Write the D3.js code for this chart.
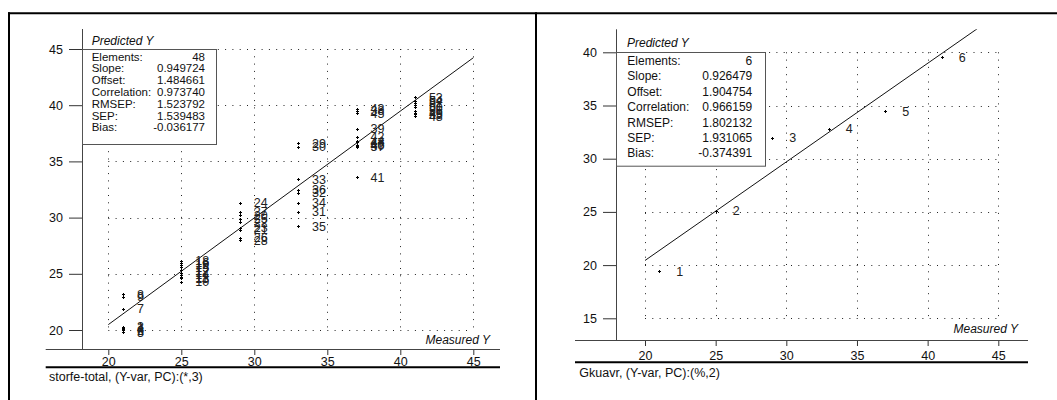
<!DOCTYPE html>
<html>
<head>
<meta charset="utf-8">
<script src="https://cdn.jsdelivr.net/npm/d3@7"></script>
<style>
  html, body { margin: 0; padding: 0; background: #fff; }
  svg { display: block; font-family: "Liberation Sans", Arial, sans-serif; }
</style>
</head>
<body>
<svg id="chart" width="1057" height="400"></svg>
<script>
// ---- storfe-total: measured vs predicted, sample numbers as labels ----
const storfeIds = [
  1, 2, 3, 4, 5, 6, 7, 8, 9,
  10, 11, 12, 13, 14, 15, 16, 17, 18, 19,
  20, 21, 22, 23, 24, 25, 26, 27, 28,
  29, 30, 31, 32, 33, 34, 35, 36,
  37, 38, 39, 40, 41, 42, 43, 44, 45, 46, 47,
  48, 49, 50, 51, 52, 53, 54, 55, 56
];
const storfeMeasured = [
  21, 21, 21, 21, 21, 21, 21, 21, 21,
  25, 25, 25, 25, 25, 25, 25, 25, 25, 25,
  29, 29, 29, 29, 29, 29, 29, 29, 29,
  33, 33, 33, 33, 33, 33, 33, 33,
  37, 37, 37, 37, 37, 37, 37, 37, 37, 37, 37,
  41, 41, 41, 41, 41, 41, 41, 41, 41
];
const storfePredicted = [
  20.2, 20.0, 20.3, 20.1, 19.8, 20.0, 21.9, 23.2, 22.95,
  24.3, 24.7, 25.3, 24.6, 24.9, 25.6, 26.0, 25.1, 26.15, 25.8,
  30.2, 28.9, 29.6, 29.1, 31.3, 29.9, 28.2, 30.5, 28.0,
  36.6, 36.3, 30.5, 32.2, 33.4, 31.3, 29.25, 32.5,
  36.3, 39.5, 37.9, 36.4, 33.6, 37.2, 39.7, 36.8, 39.3, 36.5, 36.7,
  39.0, 39.3, 39.8, 40.0, 40.2, 40.7, 40.4, 39.2, 39.5
];
const storfeStats = ["48", "0.949724", "1.484661", "0.973740", "1.523792", "1.539483", "-0.036177"];

// ---- Gkuavr ----
const gkuavrIds = [1, 2, 3, 4, 5, 6];
const gkuavrMeasured = [21, 25, 29, 33, 37, 41];
const gkuavrPredicted = [19.4, 25.1, 31.95, 32.8, 34.45, 39.55];
const gkuavrStats = ["6", "0.926479", "1.904754", "0.966159", "1.802132", "1.931065", "-0.374391"];

const statNames = ["Elements:", "Slope:", "Offset:", "Correlation:", "RMSEP:", "SEP:", "Bias:"];
const measuredTicks = [20, 25, 30, 35, 40, 45];
const storfeTicks = [20, 25, 30, 35, 40, 45];
const gkuavrTicks = [15, 20, 25, 30, 35, 40];
const storfeCaption = "storfe-total, (Y-var, PC):(*,3)";
const gkuavrCaption = "Gkuavr, (Y-var, PC):(%,2)";

const svg = d3.select("#chart");

// outer frame of the two panels
svg.append("line").attr("x1", 8).attr("x2", 1057).attr("y1", 13.3).attr("y2", 13.3)
  .attr("stroke", "#000").attr("stroke-width", 2);
svg.append("line").attr("x1", 9).attr("x2", 9).attr("y1", 12.3).attr("y2", 400)
  .attr("stroke", "#000").attr("stroke-width", 2);
svg.append("line").attr("x1", 536).attr("x2", 536).attr("y1", 12.3).attr("y2", 400)
  .attr("stroke", "#000").attr("stroke-width", 2);

function drawPanel(p, ids, measured, predicted, stats, yTicks, caption, clipId) {
  const g = svg.append("g");
  const x = d3.scaleLinear().domain([20, 45]).range(p.xRange);
  const y = d3.scaleLinear().domain(p.yDomain).range(p.yRange);
  const yLo = p.yDomain[0], yHi = p.yDomain[1];

  // dotted grid inside the tick range
  const grid = g.append("g").attr("stroke", "#222").attr("stroke-width", 1)
    .attr("stroke-dasharray", "1 6.3");
  grid.selectAll(".gh").data(yTicks).join("line")
    .attr("x1", x(20)).attr("x2", x(45))
    .attr("y1", d => Math.round(y(d)) + 0.5).attr("y2", d => Math.round(y(d)) + 0.5);
  grid.selectAll(".gv").data(measuredTicks).join("line")
    .attr("y1", y(yHi)).attr("y2", y(yLo))
    .attr("x1", d => Math.round(x(d)) + 0.5).attr("x2", d => Math.round(x(d)) + 0.5);

  // x axis: major + minor ticks
  const xMinor = d3.range(Math.ceil(x.invert(p.yAxisX)), Math.floor(x.invert(p.axisRight)) + 1)
    .filter(v => !measuredTicks.includes(v));
  const xAxisG = g.append("g").attr("transform", `translate(0,${p.axisY})`);
  xAxisG.call(d3.axisBottom(x).tickValues(xMinor).tickSize(3).tickFormat(""));
  xAxisG.call(d3.axisBottom(x).tickValues(measuredTicks).tickSize(6).tickPadding(p.xPad).tickFormat(d3.format("d")));
  g.selectAll(".domain").remove();

  const yMinor = d3.range(Math.ceil(y.invert(p.axisY)), Math.floor(y.invert(p.yAxisTop)) + 1)
    .filter(v => !yTicks.includes(v));
  const yAxisG = g.append("g").attr("transform", `translate(${p.yAxisX},0)`);
  yAxisG.call(d3.axisLeft(y).tickValues(yMinor).tickSize(5).tickFormat(""));
  yAxisG.call(d3.axisLeft(y).tickValues(yTicks).tickSize(13).tickPadding(6).tickFormat(d3.format("d")));
  g.selectAll(".domain").remove();
  g.selectAll(".tick line").attr("stroke", "#333");
  g.selectAll(".tick text").attr("fill", "#111").style("font-size", "12.5px")
    .style("font-family", "'Liberation Sans', Arial, sans-serif");

  // axis lines
  g.append("line").attr("x1", p.axisLeft).attr("x2", p.axisRight)
    .attr("y1", p.axisY + 0.5).attr("y2", p.axisY + 0.5).attr("stroke", "#444");
  g.append("line").attr("x1", p.yAxisX + 0.5).attr("x2", p.yAxisX + 0.5)
    .attr("y1", p.yAxisTop).attr("y2", p.axisY).attr("stroke", "#444");
  g.append("line").attr("x1", p.axisLeft).attr("x2", p.axisRight)
    .attr("y1", p.bottomLineY).attr("y2", p.bottomLineY).attr("stroke", "#000").attr("stroke-width", 2);

  g.append("text").attr("x", p.captionX).attr("y", p.captionY).attr("dy", "0.35em")
    .attr("fill", "#111").style("font-size", "12.5px").text(caption);
  g.append("text").attr("x", p.predX).attr("y", p.predY).attr("dy", "0.35em")
    .attr("fill", "#111").style("font-size", "12px").style("font-style", "italic").text("Predicted Y");
  g.append("text").attr("x", p.measX).attr("y", p.measY).attr("dy", "0.35em")
    .attr("text-anchor", "end").attr("fill", "#111").style("font-size", "12px")
    .style("font-style", "italic").text("Measured Y");

  // regression line, clipped to the plotting area
  const slope = +stats[1], offset = +stats[2];
  g.append("clipPath").attr("id", clipId).append("rect")
    .attr("x", p.yAxisX).attr("y", p.yAxisTop)
    .attr("width", p.axisRight - p.yAxisX).attr("height", p.axisY - p.yAxisTop);
  g.append("line").attr("clip-path", `url(#${clipId})`)
    .attr("x1", x(20)).attr("y1", y(slope * 20 + offset))
    .attr("x2", x(45)).attr("y2", y(slope * 45 + offset))
    .attr("stroke", "#111").attr("stroke-width", 1);

  // samples
  const pts = ids.map((id, i) => ({ id, m: measured[i], p: predicted[i] }));
  g.append("g").selectAll("path").data(pts).join("path")
    .attr("d", d => {
      const cx = Math.round(x(d.m)), cy = Math.round(y(d.p));
      return `M${cx - 1},${cy + 0.5}h3M${cx + 0.5},${cy - 1}v3`;
    })
    .attr("stroke", "#000").attr("stroke-width", 1).attr("fill", "none");
  g.append("g").selectAll("text").data(pts).join("text")
    .attr("x", d => x(d.m) + p.labelDx).attr("y", d => y(d.p)).attr("dy", "0.36em")
    .attr("fill", "#222").style("font-size", "12.5px").text(d => d.id);

  // statistics box
  const box = g.append("g");
  box.append("rect").attr("x", p.box[0] + 0.5).attr("y", p.box[1] + 0.5)
    .attr("width", p.box[2] - p.box[0]).attr("height", p.box[3] - p.box[1])
    .attr("fill", "#fff").attr("stroke", "#555");
  box.selectAll(".sn").data(statNames).join("text")
    .attr("x", p.statLabelX).attr("y", (d, i) => p.statY0 + i * p.statStep).attr("dy", "0.35em")
    .attr("fill", "#111").style("font-size", p.statFont).text(d => d);
  box.selectAll(".sv").data(stats).join("text")
    .attr("x", p.statValueX).attr("y", (d, i) => p.statY0 + i * p.statStep).attr("dy", "0.35em")
    .attr("text-anchor", "end").attr("fill", "#111").style("font-size", p.statFont).text(d => d);
}

drawPanel({
  xRange: [108.3, 473.3], yDomain: [20, 45], yRange: [330, 49],
  axisY: 349, axisLeft: 45.7, axisRight: 500, yAxisX: 82, yAxisTop: 29, xPad: 2,
  bottomLineY: 367.3, captionX: 49, captionY: 377,
  predX: 91.7, predY: 41, measX: 490, measY: 340,
  box: [82, 49, 216, 144], statFont: "11.5px",
  statLabelX: 91.7, statValueX: 205, statY0: 56.7, statStep: 11.77, labelDx: 14
}, storfeIds, storfeMeasured, storfePredicted, storfeStats, storfeTicks, storfeCaption, "clipStorfe");

drawPanel({
  xRange: [645, 998.3], yDomain: [15, 40], yRange: [318.3, 52.3],
  axisY: 340, axisLeft: 575, axisRight: 1028, yAxisX: 616, yAxisTop: 29.3, xPad: 5,
  bottomLineY: 362.3, captionX: 579.3, captionY: 373,
  predX: 627, predY: 42.3, measX: 1018, measY: 328.3,
  box: [616, 52, 765, 165.7], statFont: "12px",
  statLabelX: 627.3, statValueX: 752.3, statY0: 60.7, statStep: 15.4, labelDx: 17
}, gkuavrIds, gkuavrMeasured, gkuavrPredicted, gkuavrStats, gkuavrTicks, gkuavrCaption, "clipGkuavr");
</script>
</body>
</html>
